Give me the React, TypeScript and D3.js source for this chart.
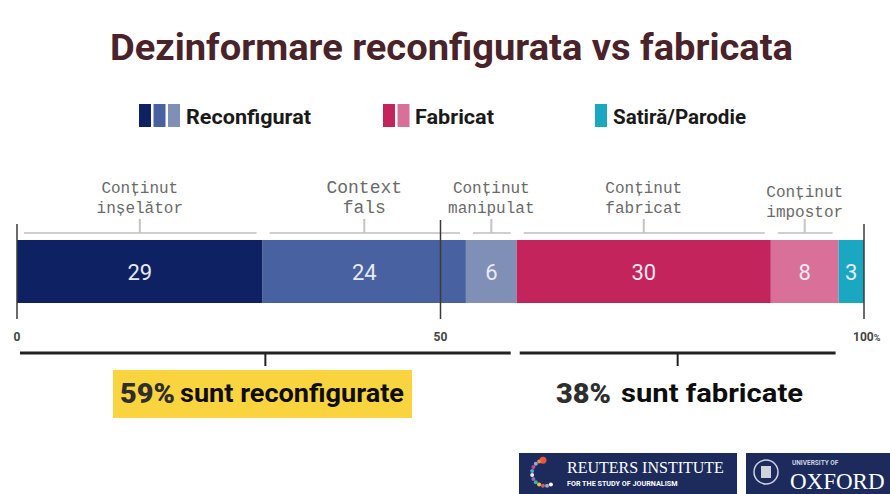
import React from "react";
import * as d3 from "d3";

const categories = ["Conținut\ninșelător", "Context\nfals", "Conținut\nmanipulat", "Conținut\nfabricat", "Conținut\nimpostor", "Satiră/Parodie"];
const values = [29, 24, 6, 30, 8, 3];
const groups = ["Reconfigurat", "Reconfigurat", "Reconfigurat", "Fabricat", "Fabricat", "Satiră/Parodie"];
const segColors = ["#0e2263", "#4861a0", "#7f8fb6", "#c2245b", "#d8709a", "#1aa7c1"];
const legendItems = ["Reconfigurat", "Fabricat", "Satiră/Parodie"];
const axisTicks = [0, 50, 100];
const summaryPct = [59, 38];
const summaryText = ["sunt reconfigurate", "sunt fabricate"];
const title = "Dezinformare reconfigurata vs fabricata";

const W = 890, H = 494;

export default function App() {
  const x = d3.scaleLinear().domain([0, 100]).range([17, 864]);
  const cum: number[] = [];
  values.reduce((a, v, i) => { cum[i] = a; return a + v; }, 0);
  const barY = 240, barH = 63;

  const legendX = [139, 383, 595];
  const legendText = [186, 415, 613];
  const legendLen = [125, 79, 133];

  const grpNames = ["Reconfigurat", "Fabricat"];
  const grpRanges = grpNames.map(g => {
    const idx = groups.map((gg, i) => (gg === g ? i : -1)).filter(i => i >= 0);
    const s = cum[idx[0]];
    const e = cum[idx[idx.length - 1]] + values[idx[idx.length - 1]];
    return [s, e];
  });
  const pctX = [120, 556], pctW = [55, 55];
  const txtX = [180, 621], txtW = [224, 182];

  const labelFont = "'Liberation Mono', 'DejaVu Sans Mono', monospace";
  const sans = "Roboto, 'Noto Sans', sans-serif";

  return (
    <div style={{ position: "fixed", left: 0, top: 0, width: W, height: H, background: "#fff" }}>
      <svg width={W} height={H} style={{ display: "block" }}>
        <rect width={W} height={H} fill="#fff" />
        <text x={110} y={60} textLength={683} lengthAdjust="spacingAndGlyphs" fontFamily={sans} fontWeight={700} fontSize={37} fill="#4a222a">{title}</text>

        {legendItems.map((item, li) => {
          const cols = segColors.filter((_, i) => groups[i] === item);
          return (
            <g key={item}>
              {cols.map((c, ci) => (
                <rect key={ci} x={legendX[li] + ci * 14.5} y={104} width={12} height={23} fill={c} />
              ))}
              <text x={legendText[li]} y={124} textLength={legendLen[li]} lengthAdjust="spacingAndGlyphs" fontFamily={sans} fontWeight={700} fontSize={20} fill="#1a1a1a">{item}</text>
            </g>
          );
        })}

        {values.map((v, i) => (
          <g key={i}>
            <rect x={x(cum[i])} y={barY} width={x(cum[i] + v) - x(cum[i])} height={barH} fill={segColors[i]} />
            <text x={(x(cum[i]) + x(cum[i] + v)) / 2} y={barY + barH / 2 + 8} textAnchor="middle" fontFamily={sans} fontSize={22} fill="#e9e9f2">{v}</text>
          </g>
        ))}

        {values.slice(0, 5).map((v, i) => {
          const x0 = x(cum[i]) + 7, x1 = x(cum[i] + v) - 6;
          const cx = (x(cum[i]) + x(cum[i] + v)) / 2;
          const lines = categories[i].split("\n");
          const fs = i === 1 ? 18 : 16;
          const ly = i === 4 ? 197 : 193;
          return (
            <g key={i}>
              <line x1={x0} x2={x1} y1={233} y2={233} stroke="#cfcfcf" strokeWidth={2} />
              <line x1={cx} x2={cx} y1={233} y2={219} stroke="#c4c4c4" strokeWidth={2} />
              {lines.map((l, li) => (
                <text key={li} x={cx} y={ly + li * 19.5} textAnchor="middle" fontFamily={labelFont} fontSize={fs} fill="#6a6a6a">{l}</text>
              ))}
            </g>
          );
        })}

        {axisTicks.map(t => (
          <g key={t}>
            <line x1={x(t)} x2={x(t)} y1={t === 50 ? 220 : 224} y2={319} stroke="#3a3a3a" strokeWidth={1.5} />
            <text x={x(t)} y={341} textAnchor={t === 100 ? "start" : "middle"} dx={t === 100 ? -11 : 0} fontFamily={sans} fontWeight={700} fontSize={12} fill="#444">
              {t}{t === 100 ? <tspan fontSize={9}>%</tspan> : null}
            </text>
          </g>
        ))}

        {grpRanges.map(([s, e], gi) => {
          const x0 = x(s) + 3, x1 = x(e) - (gi === 0 ? 6 : 3);
          const cx = (x0 + x1) / 2;
          return (
            <g key={gi}>
              <line x1={x0} x2={x1} y1={353} y2={353} stroke="#222" strokeWidth={3} />
              <line x1={cx} x2={cx} y1={353} y2={366} stroke="#222" strokeWidth={2} />
              {gi === 0 && <rect x={113} y={370} width={299} height={48} fill="#f9d43f" />}
              <text x={pctX[gi]} y={403} textLength={pctW[gi]} lengthAdjust="spacingAndGlyphs" fontFamily={sans} fontWeight={900} fontSize={27} fill="#2e2e2e">{summaryPct[gi]}%</text>
              <text x={txtX[gi]} y={402} textLength={txtW[gi]} lengthAdjust="spacingAndGlyphs" fontFamily={sans} fontWeight={700} fontSize={25} fill="#0d0d0d">{summaryText[gi]}</text>
            </g>
          );
        })}

        <g>
          <rect x={519} y={453} width={218} height={45} fill="#1c2a5c" />
          {d3.range(12).map(k => {
            const a = Math.PI * 0.55 + (k / 12) * Math.PI * 1.2;
            const palette = ["#e8573a", "#f08a3c", "#7fb2e0", "#c94b86", "#5aa0d8", "#e9e9e9", "#8a6fc1", "#3fb0a0", "#f0c040", "#d35c5c", "#99aacc", "#ffffff"];
            return <circle key={k} cx={545 + Math.cos(a) * 13} cy={473 - Math.sin(a) * 13} r={k === 0 ? 3.5 : 2} fill={palette[k]} />;
          })}
          <text x={567} y={473} fontFamily="'Liberation Serif', serif" fontSize={16} fill="#fff">REUTERS INSTITUTE</text>
          <text x={567} y={486} fontFamily={sans} fontWeight={700} fontSize={7.2} fill="#fff">FOR THE STUDY OF JOURNALISM</text>
          <rect x={746} y={453} width={144} height={45} fill="#1c2a5c" />
          <circle cx={766} cy={472} r={12} fill="none" stroke="#cfd3e0" strokeWidth={1.5} />
          <rect x={761} y={466} width={10} height={12} fill="#cfd3e0" />
          <text x={792} y={465} fontFamily={sans} fontWeight={700} fontSize={6.5} fill="#cfd3e0">UNIVERSITY OF</text>
          <text x={790} y={489} fontFamily="'Liberation Serif', serif" fontSize={23} fill="#fff">OXFORD</text>
        </g>
      </svg>
    </div>
  );
}
